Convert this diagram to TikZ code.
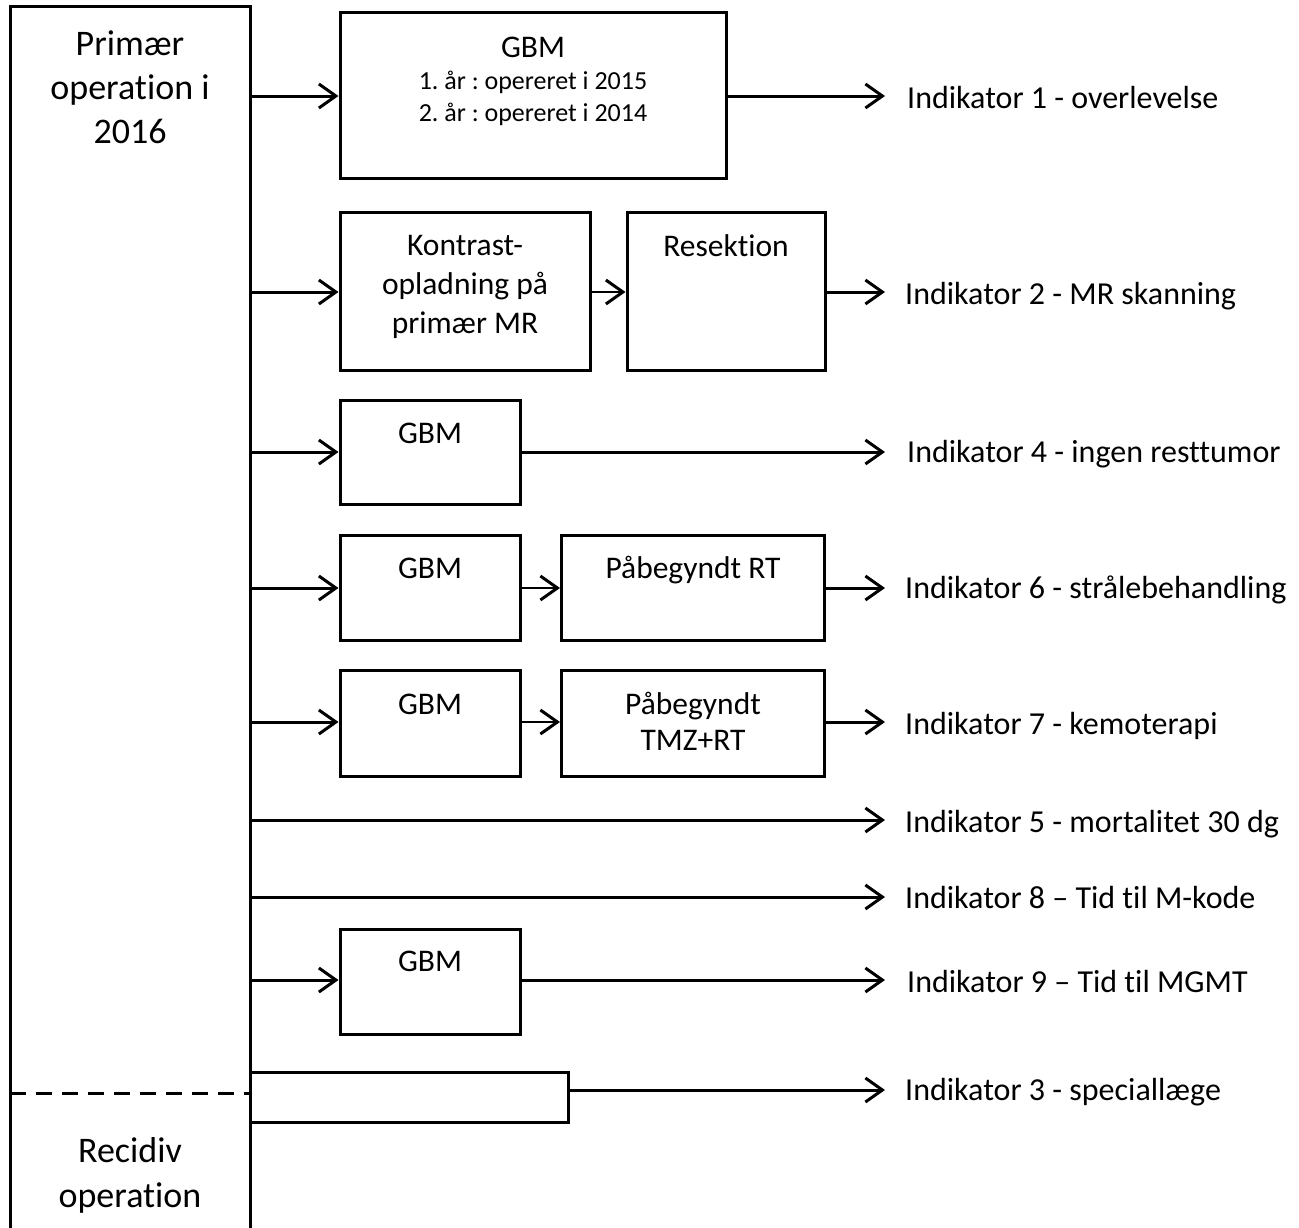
\documentclass[tikz,border=0pt]{standalone}
\usepackage{fontspec}
\setmainfont{Carlito}[Ligatures={NoCommon}]
\usetikzlibrary{arrows.meta}
\begin{document}
\frenchspacing
\begin{tikzpicture}[x=1pt,y=-1pt,
  bx/.style={draw, line width=3pt, inner sep=0pt, minimum width=#1},
  conn/.style={line width=3pt, -{Straight Barb[length=17pt,width=24pt,line width=3pt]}},
  thin conn/.style={line width=2.5pt, -{Straight Barb[length=17pt,width=24pt,line width=3pt]}},
  ind/.style={anchor=base west, font=\fontsize{32}{38}\selectfont, inner sep=0pt},
  lbl/.style={anchor=base, font=\fontsize{31.5}{38}\selectfont, inner sep=0pt},
  big/.style={anchor=base, font=\fontsize{36}{44}\selectfont, inner sep=0pt},
  small/.style={anchor=base, font=\fontsize{26}{32}\selectfont, inner sep=0pt}]
\useasboundingbox (0,0) rectangle (1299,1227);
% left column
\draw[line width=3pt] (10,1230) -- (10,6) -- (250,6) -- (250,1230);
\draw[line width=3pt, dash pattern=on 16pt off 10pt] (10,1093) -- (250,1093);
\node[big] (p1) at (130,55) {Primær};
\node[big] (p2) at (130,99) {operation i};
\node[big] (p3) at (130,143) {2016};
\node[big] (r1) at (130,1162) {Recidiv};
\node[big] (r2) at (130,1207) {operation};
% anchor points on left column
\foreach \n/\y in {a1/96,a2/292,a4/452,a6/588,a7/722,a5/820,a8/897,a9/980}
  \coordinate (\n) at (250,\y);
% row 1
\node[bx=386pt, minimum height=166pt] (b1) at (533,95) {};
\node[lbl] (t1) at (533,57) {GBM};
\node[small] (t1a) at (533,89) {1. år : opereret i 2015};
\node[small] (t1b) at (533,121) {2. år : opereret i 2014};
\node[ind] (i1) at (907,108) {Indikator 1 - overlevelse};
\draw[conn] (a1) -- (b1.west |- a1);
\draw[conn] (b1.east |- a1) -- (885,96) coordinate (e1);
% row 2
\node[bx=250pt, minimum height=158pt] (b2) at (465,291) {};
\node[lbl] (t2a) at (465,255) {Kontrast-};
\node[lbl] (t2b) at (465,294) {opladning på};
\node[lbl] (t2c) at (465,333) {primær MR};
\node[bx=198pt, minimum height=158pt] (b3) at (726,291) {};
\node[lbl] (t3) at (726,256) {Resektion};
\node[ind] (i2) at (905,304) {Indikator 2 - MR skanning};
\draw[conn] (a2) -- (b2.west |- a2);
\draw[thin conn] (b2.east |- a2) -- (b3.west |- a2);
\draw[conn] (b3.east |- a2) -- (885,292) coordinate (e2);
% row 3
\node[bx=180pt, minimum height=104pt] (b4) at (430,452) {};
\node[lbl] (t4) at (430,443) {GBM};
\node[ind] (i4) at (907,462) {Indikator 4 - ingen resttumor};
\draw[conn] (a4) -- (b4.west |- a4);
\draw[conn] (b4.east |- a4) -- (885,452) coordinate (e4);
% row 4
\node[bx=180pt, minimum height=105pt] (b5) at (430,588) {};
\node[lbl] (t5) at (430,578) {GBM};
\node[bx=263pt, minimum height=105pt] (b6) at (693,588) {};
\node[lbl] (t6) at (693,578) {Påbegyndt RT};
\node[ind] (i6) at (905,598) {Indikator 6 - strålebehandling};
\draw[conn] (a6) -- (b5.west |- a6);
\draw[thin conn] (b5.east |- a6) -- (b6.west |- a6);
\draw[conn] (b6.east |- a6) -- (885,588) coordinate (e6);
% row 5
\node[bx=180pt, minimum height=106pt] (b7) at (430,723) {};
\node[lbl] (t7) at (430,714) {GBM};
\node[bx=263pt, minimum height=106pt] (b8) at (693,723) {};
\node[lbl] (t8a) at (693,714) {Påbegyndt};
\node[lbl] (t8b) at (693,750) {TMZ+RT};
\node[ind] (i7) at (905,734) {Indikator 7 - kemoterapi};
\draw[conn] (a7) -- (b7.west |- a7);
\draw[thin conn] (b7.east |- a7) -- (b8.west |- a7);
\draw[conn] (b8.east |- a7) -- (885,722) coordinate (e7);
% row 6, 7
\node[ind] (i5) at (905,832) {Indikator 5 - mortalitet 30 dg};
\draw[conn] (a5) -- (885,820) coordinate (e5);
\node[ind] (i8) at (905,908) {Indikator 8 – Tid til M-kode};
\draw[conn] (a8) -- (885,897) coordinate (e8);
% row 8
\node[bx=180pt, minimum height=105pt] (b9) at (430,982) {};
\node[lbl] (t9) at (430,971) {GBM};
\node[ind] (i9) at (907,992) {Indikator 9 – Tid til MGMT};
\draw[conn] (a9) -- (b9.west |- a9);
\draw[conn] (b9.east |- a9) -- (885,980) coordinate (e9);
% row 9 (recidiv)
\draw[line width=3pt] (250,1072) -- (568,1072) -- (568,1122) -- (250,1122);
\coordinate (b10e) at (568,1090);
\node[ind] (i3) at (905,1100) {Indikator 3 - speciallæge};
\draw[conn] (b10e) -- (885,1090) coordinate (e3);
\end{tikzpicture}
\end{document}
